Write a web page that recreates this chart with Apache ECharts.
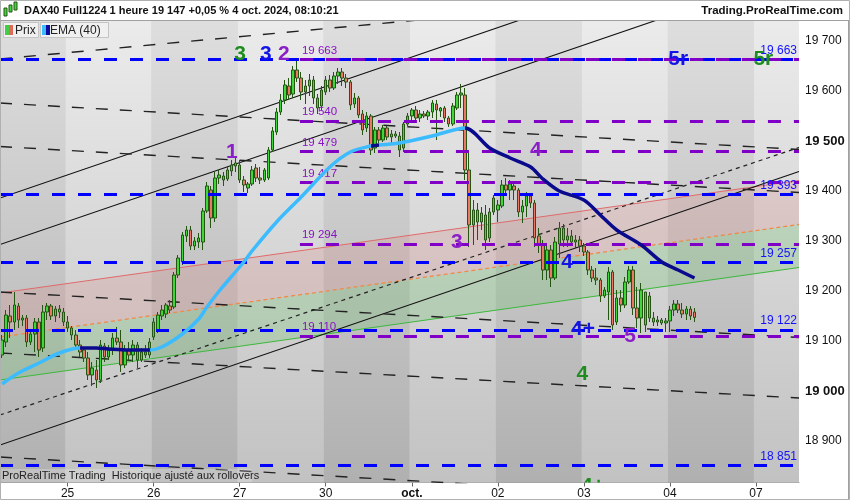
<!DOCTYPE html>
<html><head><meta charset="utf-8">
<script src="https://cdn.jsdelivr.net/npm/echarts@6/dist/echarts.min.js"></script>
<style>html,body{margin:0;padding:0;background:#fff}#c{width:850px;height:500px}</style>
</head><body><div id="c"></div>
<script>
// ---- categories (hourly bars, 21 per session) ----
const dayLabels   = ['24','25','26','27','30','oct.','02','03','04','07'];
const dayFirstBar = [6,1,1,1,1,1,1,1,1,1];
const dayLastBar  = [21,21,21,21,21,21,21,21,21,11];

// ---- candles (open, close, low, high) ----
const opens = [19072,19098,19150,19138,19170,19142,19146,19098,19114,19138,19086,19158,19170,19150,19164,19158,
19138,19126,19112,19092,19082,19066,19032,19042,19022,19090,19068,19082,19106,19098,19052,19082,19072,19092,19062,19078,19072,
19108,19122,19150,19154,19170,19168,19232,19258,19310,19322,19290,19298,19298,19360,19402,19346,19426,19430,19424,19440,19450,
19452,19422,19406,19414,19446,19426,19422,19426,19482,19518,19558,19582,19610,19594,19642,19626,19598,19610,19622,19586,19570,
19598,19622,19606,19630,19638,19626,19618,19574,19586,19554,19526,19550,19486,19522,19502,19526,19508,19514,19510,19486,19534,
19550,19562,19546,19554,19550,19558,19574,19560,19566,19546,19534,19566,19592,19592,19442,19332,19362,19338,19352,19306,19358,
19362,19370,19412,19402,19410,19402,19358,19370,19390,19376,19310,19292,19242,19282,19226,19294,19326,19302,19310,19298,19302,
19290,19278,19242,19226,19222,19190,19198,19238,19138,19186,19172,19218,19242,19166,19146,19198,19190,19146,19138,19142,19136,
19140,19162,19174,19162,19154,19164,19158];
const closes = [19102,19152,19138,19172,19142,19146,19098,19114,19138,19082,19158,19170,19150,19164,19158,19138,
19126,19112,19092,19078,19066,19032,19046,19022,19092,19068,19082,19106,19098,19052,19082,19072,19092,19062,19078,19072,19098,
19138,19152,19162,19172,19162,19232,19266,19312,19322,19290,19300,19306,19360,19410,19346,19426,19432,19422,19442,19452,19456,
19422,19412,19414,19442,19426,19422,19442,19482,19520,19558,19582,19612,19592,19642,19626,19598,19610,19622,19586,19566,19602,
19622,19606,19630,19638,19626,19618,19572,19586,19552,19522,19550,19482,19522,19502,19526,19508,19514,19510,19482,19534,19550,
19562,19546,19554,19550,19558,19576,19562,19566,19546,19534,19570,19592,19596,19442,19332,19362,19338,19356,19302,19358,19386,
19372,19412,19402,19414,19402,19358,19370,19390,19376,19306,19292,19242,19282,19226,19298,19326,19302,19310,19298,19302,19290,
19278,19242,19226,19222,19190,19202,19238,19132,19186,19172,19218,19242,19166,19146,19202,19132,19146,19138,19142,19136,19140,
19162,19174,19162,19154,19164,19150,19147];
const lows = [19066,19088,19106,19122,19126,19130,19088,19092,19078,19068,19078,19142,19142,19138,19146,19130,
19118,19102,19082,19068,19058,19022,19010,19006,19016,19058,19062,19072,19092,19038,19046,19062,19058,19046,19058,19066,19066,
19102,19116,19142,19146,19156,19164,19226,19252,19298,19282,19282,19286,19282,19356,19326,19338,19414,19410,19420,19430,19438,
19416,19398,19396,19410,19418,19414,19418,19422,19478,19512,19552,19574,19582,19586,19618,19582,19574,19590,19574,19554,19562,
19592,19598,19602,19614,19610,19606,19562,19566,19546,19512,19518,19472,19476,19496,19498,19502,19496,19506,19468,19478,19530,
19542,19538,19538,19546,19542,19546,19502,19548,19538,19528,19530,19562,19566,19422,19288,19292,19302,19322,19282,19298,19352,
19338,19366,19392,19382,19382,19348,19336,19348,19366,19288,19276,19222,19222,19208,19222,19266,19288,19288,19292,19286,19278,
19270,19232,19218,19212,19178,19186,19142,19122,19132,19158,19166,19214,19152,19126,19116,19118,19138,19130,19130,19132,19118,
19118,19150,19156,19146,19142,19142,19138];
const highs = [19112,19162,19172,19198,19176,19152,19152,19122,19146,19146,19172,19176,19174,19170,19172,19166,
19150,19130,19122,19102,19088,19078,19058,19062,19102,19096,19092,19116,19128,19122,19092,19098,19102,19098,19086,19092,19106,
19146,19158,19172,19176,19182,19238,19272,19318,19330,19330,19308,19316,19366,19418,19410,19438,19442,19438,19450,19462,19466,
19462,19430,19418,19450,19454,19448,19446,19488,19528,19566,19594,19622,19626,19650,19660,19638,19622,19634,19630,19594,19610,
19630,19632,19638,19646,19646,19634,19622,19596,19590,19562,19558,19554,19528,19528,19532,19530,19522,19520,19518,19538,19556,
19566,19570,19562,19560,19562,19582,19582,19568,19570,19550,19576,19598,19614,19606,19482,19382,19376,19368,19372,19366,19392,
19382,19422,19426,19422,19418,19406,19382,19398,19394,19382,19326,19302,19296,19292,19308,19338,19334,19326,19322,19312,19310,
19296,19282,19250,19246,19226,19208,19248,19242,19202,19202,19228,19250,19250,19208,19216,19198,19198,19158,19150,19146,19146,
19170,19182,19182,19176,19170,19170,19166];

// ---- EMA(40) (bar index, value) ----
const emaK = [0,4,9,14,19,23,26,31,36,39,44,48,50,53,59,61,67,73,80,85,90,92,97,105,113,119,124,129,132,136,142,146,150,156,161,165,169];
const emaV = [19014,19036,19056,19076,19086,19086,19084,19082,19082,19088,19114,19144,19168,19200,19258,19280,19338,19388,19448,19478,19490,19492,19496,19510,19526,19486,19466,19448,19424,19400,19382,19352,19322,19292,19258,19242,19226];
const emaFallingFrom = [19, 90, 113];
const emaFallingTo   = [36, 92, 999];
const emaLast = 19226, lastClose = 19147;

// ---- horizontal levels ----
const blueLevels   = [19663, 19393, 19257, 19122, 18851];
const purpleLevels = [19663, 19540, 19479, 19417, 19294, 19110];
const purpleStartBar = 72.7;

// ---- trend lines: value at left edge / right edge ----
const solidStart = [19386, 19293, 18892];
const solidEnd   = [19933, 19839, 19439];
const longDashStart = [19664, 19576, 19489, 19198, 19076, 18868];
const longDashEnd   = [19813, 19483, 19397, 19107, 18986, 18776];
const shortDashStart = [18952];
const shortDashEnd   = [19487];
// regression channel: lower (green), middle (orange), upper (red)
const regStart = [19022, 19108, 19196];
const regEnd   = [19247, 19333, 19421];

// ---- wave annotations ----
const waveText  = ['3','3','2','1','3','4','4','4+','5','4','4+','5r','5r'];
const waveBar   = [58.1,64.4,68.8,56.1,111.0,130.3,137.9,141.8,153.3,141.6,144.2,165.0,185.8];
const waveValue = [19674,19674,19674,19478,19298,19482,19258,19124,19110,19034,18810,19664,19664];
const GREEN='#1f8c1f', BLUE='#1414e6', PURPLE='#8a1ec8';
const waveColor = [GREEN,BLUE,PURPLE,PURPLE,PURPLE,PURPLE,BLUE,BLUE,PURPLE,GREEN,GREEN,BLUE,GREEN];

// ---------- build ----------
const cats = [], dayStart = [], dayEnd = [];
dayLabels.forEach((d,i)=>{
  dayStart.push(cats.length - 0.5);
  for(let h=dayFirstBar[i]; h<=dayLastBar[i]; h++) cats.push(d+'|'+(h<10?'0':'')+h+':00');
  dayEnd.push(cats.length - 0.5);
});
const N = cats.length, XMIN = -0.5, XMAX = N - 0.5;
const fmt = v => String(Math.round(v)).replace(/\B(?=(\d{3})+(?!\d))/g,' ');
const candle = opens.map((o,i)=>[o, closes[i], lows[i], highs[i]]);
const ema = emaK.map((k,i)=>[k, emaV[i]]);

const YMIN = 18817, YMAX = 19742;
const FONT = "'Liberation Sans', Arial, sans-serif";
const NARROW = "'Liberation Sans Narrow', 'Arial Narrow', 'Liberation Sans', sans-serif";

const grad = (a,b)=>({type:'linear',x:0,y:0,x2:0,y2:1,colorStops:[{offset:0,color:a},{offset:1,color:b}]});
const bandData = dayLabels.map((d,i)=>[
  {xAxis: dayStart[i], itemStyle:{color: i%2===0 ? grad('#dedede','#b0b0b0') : grad('#ebebeb','#c2c2c2')}},
  {xAxis: dayEnd[i]}
]);

const series = [];
// background bands
series.push({type:'line', xAxisIndex:1, z:0, silent:true, symbol:'none',
  data:[[XMIN,YMIN],[XMAX,YMIN]], lineStyle:{opacity:0},
  markArea:{silent:true, data:bandData}});
// regression channel fills
const regFill = ['rgba(90,190,90,0.24)','rgba(225,120,120,0.20)'];
series.push({type:'custom', xAxisIndex:1, z:1, silent:true, clip:true,
  data:[[0],[1]],
  renderItem:(params, api)=>{
    const i = params.dataIndex;
    const pts = [api.coord([XMIN, regStart[i]]), api.coord([XMAX, regEnd[i]]),
                 api.coord([XMAX, regEnd[i+1]]), api.coord([XMIN, regStart[i+1]])];
    return {type:'polygon', shape:{points:pts}, style:{fill:regFill[i]}};
  }});
const regStyle = [{color:'#3cb83c', width:1},{color:'#f08a4a', width:1.3, type:[4,3]},{color:'#e06a6a', width:1}];
regStart.forEach((s,i)=>series.push({type:'line', xAxisIndex:1, z:1, symbol:'none', silent:true,
  data:[[XMIN,s],[XMAX,regEnd[i]]], lineStyle:regStyle[i]}));
// trend lines
const addLine = (a,b,style)=>series.push({type:'line', xAxisIndex:1, z:2, symbol:'none', silent:true, clip:true,
  data:[[XMIN,a],[XMAX,b]], lineStyle:style});
solidStart.forEach((s,i)=>addLine(s, solidEnd[i], {color:'#111', width:1.1}));
longDashStart.forEach((s,i)=>addLine(s, longDashEnd[i], {color:'#222', width:1.4, type:[12,12]}));
shortDashStart.forEach((s,i)=>addLine(s, shortDashEnd[i], {color:'#222', width:1.2, type:[4,4]}));
// horizontal levels
series.push({type:'line', xAxisIndex:1, z:3, symbol:'none', silent:true, data:[[XMIN,null]],
  markLine:{silent:true, symbol:'none', animation:false,
    lineStyle:{color:'#0000ff', width:3, type:[13,13]},
    label:{position:'insideEndTop', color:'#1212ff', fontSize:12, fontFamily:FONT, distance:[2,3]},
    data: blueLevels.map(v=>({yAxis:v, label:{formatter:fmt(v)}}))}});
series.push({type:'line', xAxisIndex:1, z:3, symbol:'none', silent:true, data:[[XMIN,null]],
  markLine:{silent:true, symbol:'none', animation:false,
    lineStyle:{color:'#8000c8', width:3, type:[13,13]},
    label:{position:'insideStartTop', color:'#8a10c8', fontSize:11.5, fontFamily:FONT, distance:[2,3]},
    data: purpleLevels.map(v=>[{coord:[purpleStartBar,v], label:{formatter:fmt(v)}},{coord:[XMAX,v]}])}});
// candles
series.push({type:'candlestick', xAxisIndex:0, z:4, barWidth:3, data:candle,
  itemStyle:{color:'#3fd63a', color0:'#ea7a66', borderColor:'#245512', borderColor0:'#245512', borderWidth:1}});
// EMA
const emaIndex = series.length;
series.push({type:'line', xAxisIndex:1, z:5, symbol:'none', smooth:0.3, data:ema,
  lineStyle:{width:3.5},
  markLine:{silent:true, symbol:'none', animation:false, lineStyle:{width:0, opacity:0},
    data:[
      [{coord:[emaK[emaK.length-1], emaLast], label:{show:true, position:'end', distance:4, formatter:fmt(emaLast),
        color:'#1a1a80', backgroundColor:'#c6c6c6', borderColor:'#9a9a9a', borderWidth:1, padding:[2,2,1,2], fontSize:12, fontFamily:FONT}},
       {coord:[XMAX, emaLast]}],
      [{coord:[emaK[emaK.length-1], lastClose], label:{show:true, position:'end', distance:4, formatter:fmt(lastClose),
        color:'#111', backgroundColor:'#f5c400', borderColor:'#d8a800', borderWidth:1, padding:[2,2,1,2], fontSize:12, fontFamily:FONT}},
       {coord:[XMAX, lastClose]}]
    ]}});
// wave labels
series.push({type:'custom', xAxisIndex:1, z:6, clip:true, silent:true,
  data: waveBar.map((k,i)=>[k, waveValue[i]]),
  renderItem:(params, api)=>{
    const i = params.dataIndex;
    const p = api.coord([api.value(0), api.value(1)]);
    return {type:'text', x:p[0], y:p[1], style:{text:waveText[i], fill:waveColor[i],
      fontSize:21, fontWeight:'bold', fontFamily:FONT, align:'center', verticalAlign:'middle'}};
  }});

const pieces = [];
let prev = -1e9;
emaFallingFrom.forEach((f,i)=>{
  pieces.push({gte:prev, lt:f, color:'#3cbcff'});
  pieces.push({gte:f, lt:emaFallingTo[i], color:'#0a0a8c'});
  prev = emaFallingTo[i];
});
pieces.push({gte:prev, lt:1e9, color:'#3cbcff'});

const chart = echarts.init(document.getElementById('c'), null, {renderer:'canvas'});
chart.setOption({
  animation:false,
  backgroundColor:'#ffffff',
  textStyle:{fontFamily:FONT},
  grid:{left:0, right:51, top:20, bottom:17.5, show:true, backgroundColor:'#cfcfcf', borderWidth:0},
  visualMap:{type:'piecewise', show:false, seriesIndex:emaIndex, dimension:0, pieces:pieces},
  xAxis:[
    {type:'category', data:cats, boundaryGap:true,
     axisLine:{show:true, lineStyle:{color:'#9a9a9a'}},
     axisTick:{show:true, alignWithLabel:true, length:4, lineStyle:{color:'#666'},
       interval:(i,v)=>v.endsWith('|01:00')},
     axisLabel:{interval:(i,v)=>v.endsWith('|01:00'), margin:5, fontSize:12, color:'#111', fontFamily:NARROW,
       formatter:v=>{const d=v.split('|')[0]; return d==='oct.'?'{b|oct.}':d;},
       rich:{b:{fontWeight:'bold', fontSize:12, fontFamily:NARROW, color:'#111'}}},
     splitLine:{show:false}},
    {type:'value', min:XMIN, max:XMAX, show:false, splitLine:{show:false}}
  ],
  yAxis:{type:'value', position:'right', min:YMIN, max:YMAX, splitNumber:9,
    axisLine:{show:true, lineStyle:{color:'#9a9a9a'}},
    axisTick:{show:true, length:4, lineStyle:{color:'#555'}},
    splitLine:{show:false},
    axisLabel:{showMinLabel:false, showMaxLabel:false, margin:6, fontSize:12, color:'#111', fontFamily:FONT,
      formatter:v=>(v===19500||v===19000)?'{b|'+fmt(v)+'}':fmt(v),
      rich:{b:{fontWeight:'bold', fontSize:13, color:'#111', fontFamily:FONT}}}},
  series:series,
  graphic:[
    {type:'rect', shape:{x:0,y:0,width:850,height:20}, style:{fill:'#ffffff'}, z:10},
    {type:'line', shape:{x1:0,y1:20.5,x2:850,y2:20.5}, style:{stroke:'#a0a0a0', lineWidth:1}, z:10},
    {type:'rect', shape:{x:0.5,y:0.5,width:849,height:499}, style:{fill:'none', stroke:'#b0b0b0', lineWidth:1}, z:10},
    {type:'line', shape:{x1:848.5,y1:20,x2:848.5,y2:499}, style:{stroke:'#a0a0a0', lineWidth:1}, z:10},
    // header icon
    {type:'rect', shape:{x:4,y:8,width:3,height:8}, style:{fill:'#3fd63a', stroke:'#245512', lineWidth:1}, z:11},
    {type:'rect', shape:{x:9,y:5,width:3,height:7}, style:{fill:'#3fd63a', stroke:'#245512', lineWidth:1}, z:11},
    {type:'rect', shape:{x:14,y:2,width:3,height:8}, style:{fill:'#3fd63a', stroke:'#245512', lineWidth:1}, z:11},
    {type:'text', x:24, y:11, style:{text:'DAX40 Full1224 1 heure 19 147 +0,05 % 4 oct. 2024, 08:10:21',
      fill:'#111', fontSize:11, fontWeight:'bold', fontFamily:FONT, verticalAlign:'middle'}, z:11},
    {type:'text', x:843, y:11, style:{text:'Trading.ProRealTime.com', fill:'#111', fontSize:11.5, fontWeight:'bold',
      fontFamily:FONT, align:'right', verticalAlign:'middle'}, z:11},
    // legend
    {type:'rect', shape:{x:3.5,y:22.5,width:35,height:15}, style:{fill:'#f0f0f0', stroke:'#c4c4c4', lineWidth:1}, z:11},
    {type:'rect', shape:{x:5,y:25,width:4,height:10}, style:{fill:'#44cc44'}, z:12},
    {type:'rect', shape:{x:9,y:25,width:4,height:10}, style:{fill:'#e06a5a'}, z:12},
    {type:'text', x:15, y:30.5, style:{text:'Prix', fill:'#222', fontSize:12, fontFamily:FONT, verticalAlign:'middle'}, z:12},
    {type:'rect', shape:{x:40.5,y:22.5,width:68,height:15}, style:{fill:'#f0f0f0', stroke:'#c4c4c4', lineWidth:1}, z:11},
    {type:'rect', shape:{x:42,y:25,width:4,height:10}, style:{fill:'#3cbcff'}, z:12},
    {type:'rect', shape:{x:46,y:25,width:4,height:10}, style:{fill:'#0a0a9c'}, z:12},
    {type:'text', x:50, y:30.5, style:{text:'EMA (40)', fill:'#222', fontSize:12, fontFamily:FONT, verticalAlign:'middle'}, z:12},
    // footer note
    {type:'rect', shape:{x:0,y:469,width:252,height:13}, style:{fill:'rgba(255,255,255,0.22)'}, z:9},
    {type:'text', x:2, y:476, style:{text:'ProRealTime Trading  Historique ajusté aux rollovers', fill:'#222', fontSize:11,
      fontFamily:NARROW, verticalAlign:'middle'}, z:11}
  ]
});
</script></body></html>
